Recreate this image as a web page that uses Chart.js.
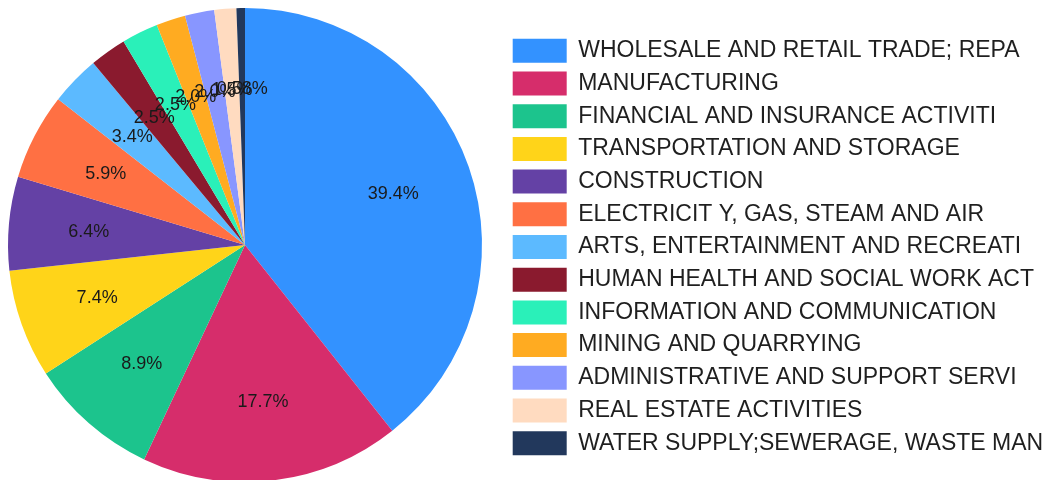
<!DOCTYPE html>
<html>
<head>
<meta charset="utf-8">
<script src="https://cdn.jsdelivr.net/npm/chart.js@4.4.1/dist/chart.umd.min.js"></script>
<style>
  html, body { margin: 0; padding: 0; background: #ffffff; overflow: hidden; }
  #wrap { width: 1054px; height: 480px; position: relative; }
</style>
</head>
<body>
<div id="wrap"><canvas id="pie"></canvas></div>
<script>
// Sectors (names as shortened for the legend)
const sectors = [
  "WHOLESALE AND RETAIL TRADE; REPA",
  "MANUFACTURING",
  "FINANCIAL AND INSURANCE ACTIVITI",
  "TRANSPORTATION AND STORAGE",
  "CONSTRUCTION",
  "ELECTRICIT Y, GAS, STEAM AND AIR",
  "ARTS, ENTERTAINMENT AND RECREATI",
  "HUMAN HEALTH AND SOCIAL WORK ACT",
  "INFORMATION AND COMMUNICATION",
  "MINING AND QUARRYING",
  "ADMINISTRATIVE AND SUPPORT SERVI",
  "REAL ESTATE ACTIVITIES",
  "WATER SUPPLY;SEWERAGE, WASTE MAN"
];

// Share of each sector, in percent
const shares = [39.4, 17.7, 8.9, 7.4, 6.4, 5.9, 3.4, 2.5, 2.5, 2.0, 2.0, 1.5, 0.58];

const sectorColors = [
  "#3392FF", "#D62D6B", "#1CC48D", "#FFD419", "#6441A5", "#FF7043", "#5CBAFF",
  "#8A1A2E", "#2AF0B9", "#FFAB21", "#8896FF", "#FFDBC0", "#22385C"
];

function shareText(v) {
  return (v < 1 ? v.toFixed(2) : v.toFixed(1)) + "%";
}

// Percentage labels placed inside each slice
const sliceLabels = {
  id: "sliceLabels",
  afterDatasetsDraw(chart) {
    const ctx = chart.ctx;
    const meta = chart.getDatasetMeta(0);
    const values = chart.data.datasets[0].data;
    ctx.save();
    ctx.font = "18px 'Liberation Sans', Arial, sans-serif";
    ctx.fillStyle = "#1a1a1a";
    ctx.textAlign = "center";
    ctx.textBaseline = "middle";
    meta.data.forEach((arc, i) => {
      const p = arc.getProps(["x", "y", "startAngle", "endAngle", "outerRadius"], true);
      const mid = (p.startAngle + p.endAngle) / 2;
      const r = p.outerRadius * 0.662;
      ctx.fillText(shareText(values[i]), p.x + Math.cos(mid) * r, p.y + Math.sin(mid) * r + 1);
    });
    ctx.restore();
  }
};

// Legend column on the right: reserve a fixed width, then nudge the entries right
const LEGEND_RESERVED = 564;
const LEGEND_SHIFT = 14;
const legendColumn = {
  id: "legendColumn",
  beforeInit(chart) {
    const legend = chart.legend;
    const fit = legend.fit;
    legend.fit = function () {
      fit.call(this);
      this.width = LEGEND_RESERVED;
    };
  },
  afterLayout(chart) {
    chart.legend.left += LEGEND_SHIFT;
    chart.legend.right += LEGEND_SHIFT;
  }
};

new Chart(document.getElementById("pie"), {
  type: "pie",
  data: {
    labels: sectors,
    datasets: [{
      data: shares,
      backgroundColor: sectorColors,
      borderWidth: 0,
      clip: false
    }]
  },
  options: {
    responsive: true,
    maintainAspectRatio: false,
    animation: false,
    radius: 237,
    layout: { padding: { left: 0, right: 0, top: 10, bottom: -4 } },
    plugins: {
      tooltip: { enabled: false },
      legend: {
        position: "right",
        align: "center",
        labels: {
          boxWidth: 54,
          boxHeight: 24,
          padding: 8.7,
          color: "#1f1f1f",
          font: { family: "'Liberation Sans', Arial, sans-serif", size: 23 }
        }
      }
    }
  },
  plugins: [sliceLabels, legendColumn]
});
</script>
</body>
</html>
